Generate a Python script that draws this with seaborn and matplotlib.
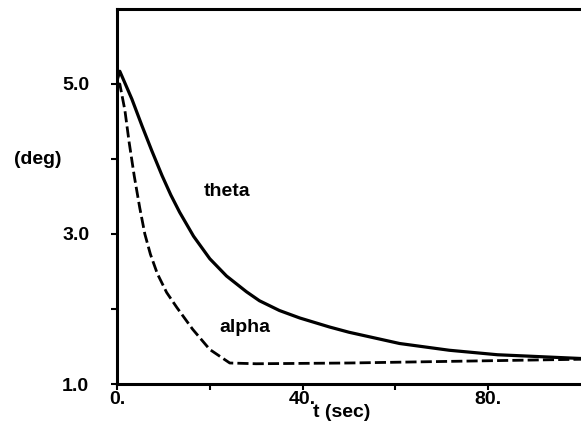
import matplotlib
matplotlib.use("Agg")
import matplotlib.pyplot as plt
import seaborn as sns
import pandas as pd

# data
t_theta = [0, 0.6, 3.2, 5.4, 7.5, 9.7, 11.6, 13.5, 16.5, 20, 23.6, 27.9, 30.7, 35, 39.4,
           45.8, 50, 60.9, 71.6, 82, 100]
theta = [5.05, 5.17, 4.80, 4.44, 4.11, 3.78, 3.52, 3.29, 2.97, 2.67, 2.44, 2.23, 2.11, 1.98, 1.88,
         1.76, 1.69, 1.54, 1.45, 1.39, 1.34]

t_alpha = [0, 0.6, 1.7, 2.6, 3.7, 4.9, 6.0, 7.2, 8.7, 10.7, 12.9, 16.3, 20, 24.3, 30, 50, 70, 90, 100]
alpha = [5.0, 5.0, 4.65, 4.23, 3.78, 3.35, 3.00, 2.73, 2.47, 2.22, 2.02, 1.73, 1.46, 1.28,
         1.27, 1.28, 1.30, 1.32, 1.33]

x_ticks = [0, 20, 40, 60, 80]
x_labels = ["0.", "", "40.", "", "80."]
y_ticks = [1, 2, 3, 4, 5]
y_labels = ["1.0", "", "3.0", "", "5.0"]

sns.set_style("white")
plt.rcParams["font.family"] = ["Liberation Sans", "DejaVu Sans"]
plt.rcParams["text.color"] = "black"
plt.rcParams["xtick.color"] = "black"
plt.rcParams["ytick.color"] = "black"

df_theta = pd.DataFrame({"t": t_theta, "v": theta})
df_alpha = pd.DataFrame({"t": t_alpha, "v": alpha})

fig = plt.figure(figsize=(5.81, 4.23), dpi=100)
ax = fig.add_axes([117 / 581, 39 / 423, 464 / 581, 375 / 423])

sns.lineplot(data=df_theta, x="t", y="v", ax=ax, color="black", linewidth=2.3,
             estimator=None, sort=False)
sns.lineplot(data=df_alpha, x="t", y="v", ax=ax, color="black", linewidth=2.0,
             estimator=None, sort=False, linestyle=(0, (4, 1.5)))

ax.set_xlim(0, 100)
ax.set_ylim(1, 6)
ax.set_xticks(x_ticks)
ax.set_xticklabels(x_labels)
ax.set_yticks(y_ticks)
ax.set_yticklabels(y_labels)
ax.set_xlabel("")
ax.set_ylabel("")

for side in ["left", "bottom", "top"]:
    ax.spines[side].set_visible(True)
    ax.spines[side].set_linewidth(2.2)
    ax.spines[side].set_color("black")
ax.spines["right"].set_visible(False)

fkw = dict(fontsize=14, fontweight="bold")
ax.tick_params(axis="y", direction="out", length=4, width=1.5, pad=16, left=True)
ax.tick_params(axis="x", direction="out", length=4, width=1.5, pad=1, bottom=True)
for lab in ax.get_xticklabels() + ax.get_yticklabels():
    lab.set_fontsize(14)
    lab.set_fontweight("bold")

ax.text(23.7, 3.56, "theta", ha="center", va="center", **fkw)
ax.text(27.5, 1.75, "alpha", ha="center", va="center", **fkw)
fig.text(38 / 581, 1 - 160 / 423, "(deg)", ha="center", va="center", **fkw)
fig.text(342 / 581, 1 - 412 / 423, "t (sec)", ha="center", va="center", **fkw)

fig.savefig("out.png", dpi=100)
